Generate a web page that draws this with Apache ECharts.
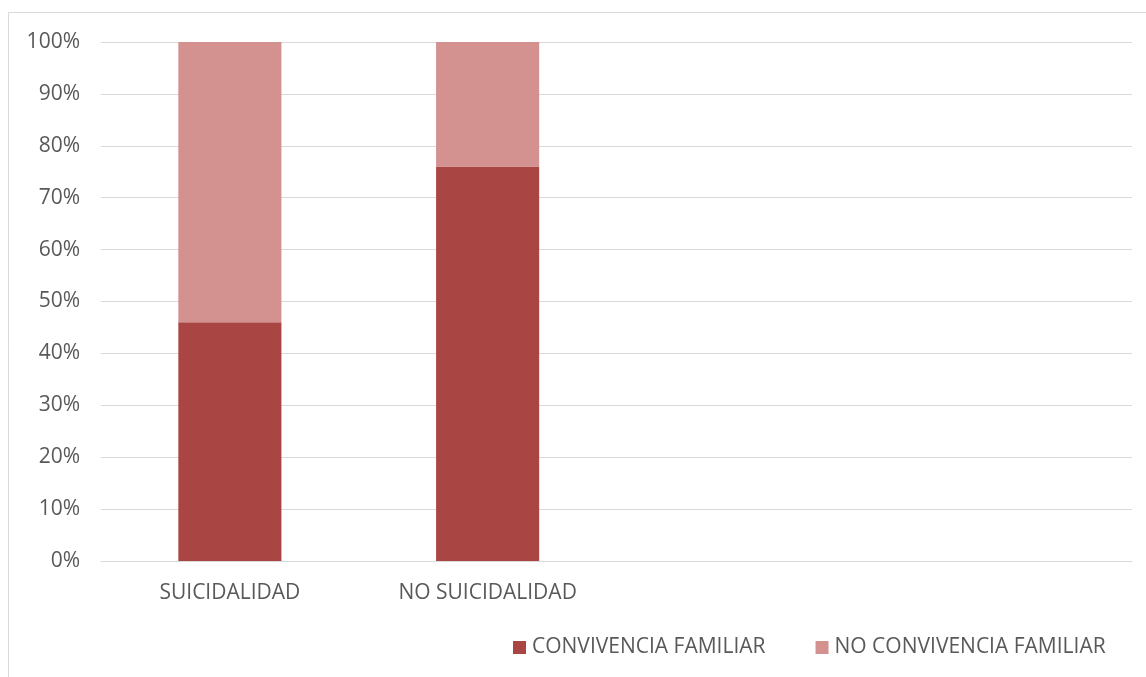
<!DOCTYPE html>
<html><head><meta charset="utf-8">
<script src="https://cdn.jsdelivr.net/npm/echarts@6/dist/echarts.min.js"></script>
<style>html,body{margin:0;padding:0;background:#fff}#c{width:1146px;height:677px}</style>
</head><body><div id="c"></div>
<script>
const categories = ["SUICIDALIDAD", "NO SUICIDALIDAD", "", ""];
const convivencia = [46, 76, null, null];
const noConvivencia = [54, 24, null, null];
const yTicks = [0, 10, 20, 30, 40, 50, 60, 70, 80, 90, 100];

const font = "'Open Sans', 'Noto Sans', sans-serif";
const chart = echarts.init(document.getElementById('c'), null, {renderer: 'canvas'});
chart.setOption({
  animation: false,
  backgroundColor: '#fff',
  graphic: [{
    type: 'rect', silent: true, z: -1,
    shape: {x: 8.5, y: 12.5, width: 1300, height: 800},
    style: {fill: 'none', stroke: '#d9d9d9', lineWidth: 1}
  }],
  grid: {left: 101, right: 14, top: 42, bottom: 116, containLabel: false},
  legend: {
    left: 508, top: 632, itemWidth: 13, itemHeight: 13, itemGap: 50,
    icon: 'rect',
    textStyle: {color: '#595959', fontSize: 21, fontFamily: font, padding: [0, 0, 0, 1]},
    data: ['CONVIVENCIA FAMILIAR', 'NO CONVIVENCIA FAMILIAR']
  },
  xAxis: {
    type: 'category', data: categories,
    axisLine: {show: true, lineStyle: {color: '#d9d9d9', width: 1}},
    axisTick: {show: false},
    axisLabel: {color: '#595959', fontSize: 21, fontFamily: font, margin: 22, interval: 0}
  },
  yAxis: {
    type: 'value', min: yTicks[0], max: yTicks[yTicks.length - 1], interval: 10,
    axisLine: {show: false}, axisTick: {show: false},
    splitLine: {lineStyle: {color: '#d9d9d9', width: 1}},
    axisLabel: {color: '#595959', fontSize: 21, fontFamily: font, margin: 21,
      formatter: v => v + '%'}
  },
  series: [
    {name: 'CONVIVENCIA FAMILIAR', type: 'bar', stack: 't', data: convivencia,
     barWidth: '40%', itemStyle: {color: '#A94643'}},
    {name: 'NO CONVIVENCIA FAMILIAR', type: 'bar', stack: 't', data: noConvivencia,
     barWidth: '40%', itemStyle: {color: '#D39190'}}
  ]
});
</script></body></html>
